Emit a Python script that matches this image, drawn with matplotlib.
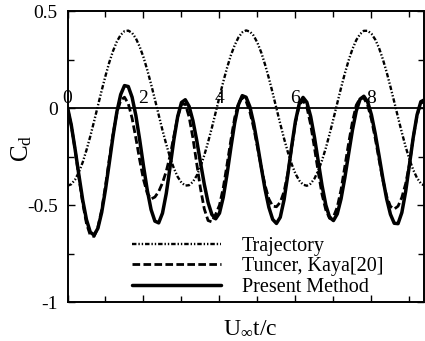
import matplotlib
matplotlib.use("Agg")
import matplotlib.pyplot as plt
from matplotlib.ticker import MultipleLocator, NullFormatter

plt.rcParams['font.family'] = ['Liberation Serif', 'DejaVu Serif']
plt.rcParams['mathtext.fontset'] = 'custom'
plt.rcParams['mathtext.rm'] = 'Liberation Serif'
plt.rcParams['mathtext.it'] = 'Liberation Serif:italic'
plt.rcParams['lines.scale_dashes'] = False

# ---- data ----
t = [round(0.1 * i, 1) for i in range(95)]  # U_inf t / c, 0 .. 9.4

trajectory = [
    -0.400, -0.392, -0.368, -0.330, -0.279, -0.216, -0.145, -0.068, 0.012, 0.091,
    0.166, 0.236, 0.295, 0.343, 0.377, 0.396, 0.399, 0.387, 0.359, 0.316,
    0.262, 0.196, 0.123, 0.045, -0.035, -0.114, -0.187, -0.254, -0.310, -0.354,
    -0.384, -0.399, -0.397, -0.380, -0.348, -0.302, -0.243, -0.175, -0.101, -0.022,
    0.058, 0.136, 0.208, 0.272, 0.324, 0.364, 0.390, 0.400, 0.394, 0.373,
    0.336, 0.286, 0.224, 0.154, 0.078, -0.002, -0.081, -0.157, -0.227, -0.288,
    -0.338, -0.373, -0.394, -0.400, -0.389, -0.363, -0.322, -0.269, -0.205, -0.132,
    -0.055, 0.025, 0.104, 0.179, 0.246, 0.304, 0.350, 0.381, 0.398, 0.398,
    0.383, 0.353, 0.309, 0.252, 0.185, 0.110, 0.032, -0.048, -0.126, -0.199,
    -0.264, -0.318, -0.360, -0.388, -0.400,
]

tuncer_kaya = [
    0.000, -0.090, -0.214, -0.355, -0.489, -0.595, -0.655, -0.661, -0.614, -0.523,
    -0.400, -0.263, -0.132, -0.025, 0.040, 0.056, 0.023, -0.052, -0.155, -0.267,
    -0.368, -0.439, -0.468, -0.458, -0.430, -0.385, -0.325, -0.245, -0.145, -0.045,
    0.020, 0.021, -0.045, -0.153, -0.284, -0.414, -0.519, -0.579, -0.586, -0.547,
    -0.500, -0.410, -0.290, -0.165, -0.050, 0.025, 0.055, 0.036, -0.019, -0.101,
    -0.202, -0.305, -0.398, -0.468, -0.505, -0.508, -0.485, -0.430, -0.335, -0.205,
    -0.075, 0.015, 0.040, 0.005, -0.085, -0.205, -0.330, -0.445, -0.525, -0.568,
    -0.560, -0.510, -0.420, -0.300, -0.180, -0.070, 0.015, 0.050, 0.052, 0.015,
    -0.058, -0.156, -0.265, -0.370, -0.454, -0.506, -0.520, -0.505, -0.460, -0.390,
    -0.290, -0.150, -0.040, 0.025, 0.035,
]

present = [
    0.004, -0.088, -0.212, -0.345, -0.473, -0.575, -0.639, -0.654, -0.619, -0.537,
    -0.419, -0.282, -0.142, -0.019, 0.070, 0.116, 0.111, 0.056, -0.039, -0.163,
    -0.298, -0.423, -0.523, -0.582, -0.591, -0.541, -0.439, -0.303, -0.162, -0.044,
    0.029, 0.043, 0.009, -0.064, -0.165, -0.280, -0.392, -0.486, -0.548, -0.570,
    -0.541, -0.459, -0.339, -0.204, -0.077, 0.018, 0.064, 0.056, 0.007, -0.078,
    -0.187, -0.305, -0.418, -0.511, -0.573, -0.594, -0.562, -0.472, -0.342, -0.197,
    -0.067, 0.023, 0.055, 0.030, -0.043, -0.150, -0.275, -0.399, -0.500, -0.563,
    -0.579, -0.545, -0.467, -0.358, -0.234, -0.113, -0.015, 0.046, 0.061, 0.032,
    -0.035, -0.132, -0.245, -0.362, -0.467, -0.547, -0.593, -0.595, -0.538, -0.430,
    -0.292, -0.151, -0.035, 0.033, 0.043,
]

series_labels = ["Trajectory", "Tuncer, Kaya[20]", "Present Method"]
xtick_values = [0, 2, 4, 6, 8]
xtick_labels = ["0", "2", "4", "6", "8"]
ytick_values = [-1, -0.5, 0, 0.5]
ytick_labels = ["-1", "-0.5", "0", "0.5"]

# ---- figure ----
fig = plt.figure(figsize=(4.25, 3.41), dpi=100)
ax = fig.add_axes([67.5 / 425, 1 - 302.3 / 341, (423.5 - 67.5) / 425, (302.3 - 11) / 341])

ax.plot(t, trajectory, color='black', lw=1.7, dashes=(3.2, 1.4, 1.0, 1.4, 1.0, 1.4),
        label=series_labels[0])
ax.plot(t, tuncer_kaya, color='black', lw=2.0, dashes=(5.5, 2.4), label=series_labels[1])
ax.plot(t, present, color='black', lw=2.5, solid_capstyle='round', label=series_labels[2])

ax.axhline(0, color='black', lw=1.3, zorder=1)

ax.set_xlim(0, 9.37)
ax.set_ylim(-1, 0.5)

ax.xaxis.set_major_locator(MultipleLocator(2))
ax.xaxis.set_minor_locator(MultipleLocator(1))
ax.xaxis.set_major_formatter(NullFormatter())
ax.set_yticks(ytick_values)
ax.set_yticklabels(ytick_labels, fontsize=14)
ax.yaxis.set_minor_locator(MultipleLocator(0.25))

ax.tick_params(which='both', direction='in', top=True, right=True, width=1.0, colors='black')
ax.tick_params(which='major', length=5)
ax.tick_params(which='minor', length=4)
ax.tick_params(axis='y', pad=7)
for s in ax.spines.values():
    s.set_linewidth(1.4)

for xv, lab in zip(xtick_values, xtick_labels):
    ax.text(xv, 0.004, lab, ha='center', va='bottom', fontsize=14)

ax.set_ylabel(r'$\mathrm{C_d}$', fontsize=18, labelpad=0)
ax.yaxis.set_label_coords(-0.095, 0.53)

fig.text(250 / 425, 0.022, r'$\mathrm{U_{\infty}t/c}$', ha='center', va='baseline', fontsize=17)

leg = ax.legend(loc='lower left', bbox_to_anchor=(0.181, 0.018), frameon=False,
                fontsize=14.5, handlelength=4.4, handletextpad=1.05, labelspacing=0.08,
                borderaxespad=0.0, borderpad=0.0)

fig.savefig('out.png', dpi=100)
